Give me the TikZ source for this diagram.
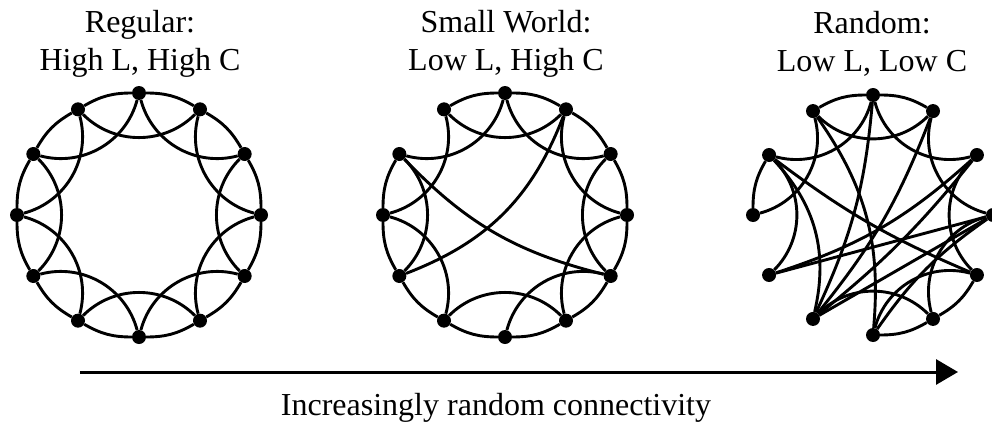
\documentclass[tikz,border=0pt]{standalone}
\usepackage{fontspec}
\setmainfont{Liberation Serif}
\usetikzlibrary{arrows.meta, positioning, calc}

\begin{document}
\begin{tikzpicture}[
    x=1pt, y=1pt,
    dot/.style={circle, fill=black, inner sep=0pt, minimum size=14pt},
    link/.style={line width=2.9pt},
    caption/.style={align=center, font=\fontsize{32}{38}\selectfont}
]
    \useasboundingbox (0,0) rectangle (992,-428);

    % Titles
    \node[caption] (titreg) at (140,-44) {Regular:\\High L, High C};
    \node[caption] (titsw) at (506,-44) {Small World:\\Low L, High C};
    \node[caption] (titrnd) at (872,-44) {Random:\\Low L, Low C};

    % Twelve nodes on each ring
    \foreach \a in {0,30,...,330} {
        \node[dot] (reg\a) at ($(139,-215)+(\a:122)$) {};
        \node[dot] (sw\a) at ($(505,-215)+(\a:122)$) {};
        \node[dot] (rnd\a) at ($(873,-215)+(\a:120)$) {};
    }

    % Regular ring lattice
    \foreach \a/\b/\c in {0/30/60, 30/60/90, 60/90/120, 90/120/150, 120/150/180, 150/180/210,
                          180/210/240, 210/240/270, 240/270/300, 270/300/330, 300/330/0, 330/0/30} {
        \draw[link] (reg\a) to[bend right=15] (reg\b);
        \draw[link] (reg\a) to[bend left=45] (reg\c);
    }

    % Small world: two links rewired
    \foreach \a/\b in {0/30, 30/60, 60/90, 90/120, 150/180, 180/210, 210/240, 240/270, 270/300, 300/330, 330/0} {
        \draw[link] (sw\a) to[bend right=15] (sw\b);
    }
    \foreach \a/\b in {0/60, 30/90, 60/120, 90/150, 120/180, 150/210, 180/240, 240/300, 270/330, 300/0, 330/30} {
        \draw[link] (sw\a) to[bend left=45] (sw\b);
    }
    \draw[link] (sw150) to[bend right=16] (sw330);
    \draw[link] (sw210) to[bend right=24] (sw60);

    % Random
    \draw[link] (rnd60) to[bend right=15] (rnd90);
    \draw[link] (rnd90) to[bend right=15] (rnd120);
    \draw[link] (rnd150) to[bend right=15] (rnd180);
    \draw[link] (rnd270) to[bend right=15] (rnd300);
    \draw[link] (rnd300) to[bend right=15] (rnd330);
    \draw[link] (rnd60) to[bend left=45] (rnd120);
    \draw[link] (rnd90) to[bend left=45] (rnd150);
    \draw[link] (rnd330) to[bend left=45] (rnd30);
    \draw[link] (rnd30) to[bend left=45] (rnd90);
    \draw[link] (rnd120) to[bend left=45] (rnd180);
    \draw[link] (rnd150) to[bend left=45] (rnd210);
    \draw[link] (rnd240) to[bend left=45] (rnd300);
    \draw[link] (rnd270) to[bend left=45] (rnd330);
    \draw[link] (rnd300) to[bend left=45] (rnd0);
    \draw[link] (rnd0) to[bend left=45] (rnd60);
    \draw[link] (rnd90) to[bend left=10] (rnd240);
    \draw[link] (rnd120) to[bend left=20] (rnd270);
    \draw[link] (rnd60) to[bend left=9] (rnd240);
    \draw[link] (rnd150) to[bend left=28] (rnd240);
    \draw[link] (rnd150) to[bend right=7] (rnd330);
    \draw[link] (rnd210) to[bend right=12] (rnd30);
    \draw[link] (rnd210) to (rnd0);
    \draw[link] (rnd240) to[bend right=6] (rnd30);
    \draw[link] (rnd240) to (rnd0);
    \draw[link] (rnd270) to[bend left=10] (rnd0);

    % Arrow
    \coordinate (from) at (80,-372);
    \coordinate (to) at (958,-372);
    \draw[line width=3pt, -{Triangle[length=22pt, width=25pt]}] (from) -- (to);
    \node[caption] (axis) at (496,-408) {Increasingly random connectivity};
\end{tikzpicture}
\end{document}
